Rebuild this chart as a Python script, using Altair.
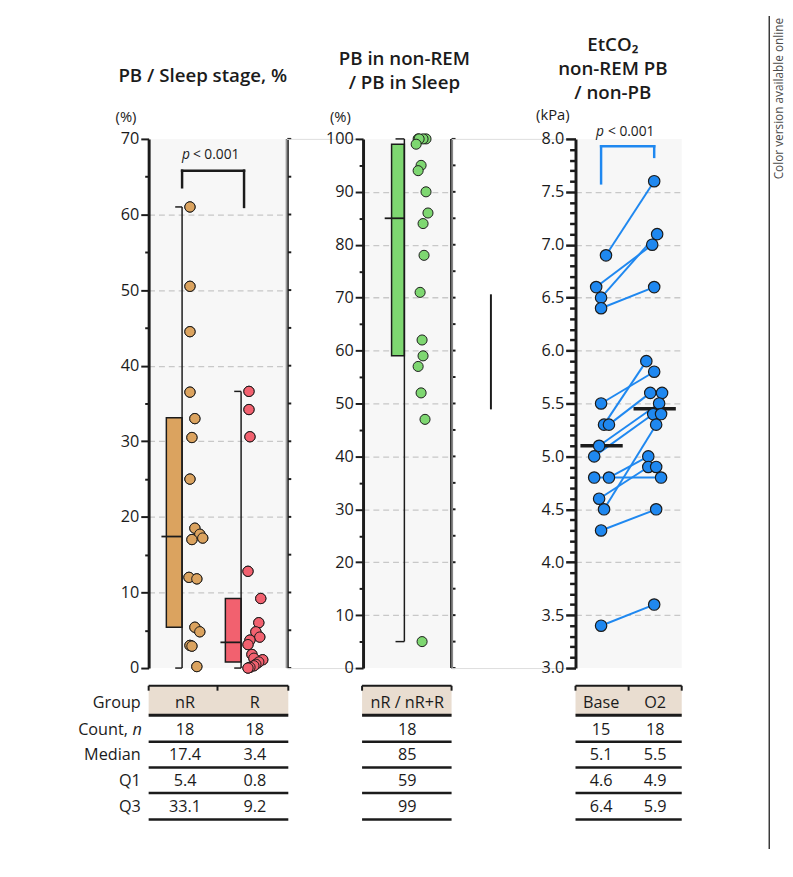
import altair as alt
import pandas as pd

FONT = "Open Sans"
INK = "#1b1b1b"
BG = "#f7f7f7"
GRID = "#c8c8c8"
HEAD = "#e9ddd0"
H = 538  # plot height shared by the three panels

# ---------------- Panel 1: PB / Sleep stage, % ----------------
p1_groups = ["nR", "R"]
p1_colors = ["#dba35f", "#f2616f"]
nr_values = [61, 50.5, 44.5, 36.5, 33, 30.5, 25, 18.5, 17.7, 17.2, 17, 12, 11.8, 5.4, 4.8, 3, 2.9, 0.2]
nr_jitter = [2.1, 2.1, 2.1, 2.1, 2.35, 2.2, 2.1, 2.35, 2.6, 2.75, 2.2, 2.05, 2.45, 2.35, 2.6, 2.1, 2.2, 2.45]
r_values = [36.6, 34.2, 30.6, 12.8, 9.2, 6.0, 4.8, 4.1, 3.7, 3.1, 1.8, 1.3, 1.1, 0.8, 0.5, 0.3, 0.1, 0.0]
r_jitter = [5.1, 5.1, 5.15, 5.05, 5.7, 5.6, 5.45, 5.65, 5.15, 5.05, 5.25, 5.35, 5.8, 5.6, 5.45, 5.35, 5.15, 5.05]
p1_pos = [1.7, 4.7]
p1_q1 = [5.4, 0.8]
p1_median = [17.4, 3.4]
p1_q3 = [33.1, 9.2]
p1_low = [0.0, 0.0]
p1_high = [61.0, 36.6]

# ---------------- Panel 2: PB in non-REM / PB in Sleep ----------------
p2_values = [100, 100, 100, 100, 99, 95, 94, 90, 86, 84, 78, 71, 62, 59, 57, 52, 47, 5]
p2_jitter = [2.8, 3.2, 3.05, 2.85, 2.7, 2.95, 2.8, 3.2, 3.3, 3.05, 3.1, 2.9, 3.0, 3.05, 2.8, 2.95, 3.15, 3.0]
p2_color = "#7ed771"
p2_pos = [2.1]
p2_q1 = [59]
p2_median = [85]
p2_q3 = [99]
p2_low = [5]
p2_high = [100]

# ---------------- Panel 3: EtCO2 ----------------
p3_color = "#1f88f0"
base_values = [6.9, 6.6, 6.5, 6.4, 5.5, 5.3, 5.3, 5.1, 5.0, 4.8, 4.8, 4.6, 4.5, 4.3, 3.4]
base_jitter = [1.55, 1.05, 1.3, 1.3, 1.3, 1.45, 1.7, 1.2, 0.95, 0.95, 1.7, 1.2, 1.45, 1.3, 1.3]
o2_values = [7.6, 7.1, 7.0, 6.6, 5.9, 5.8, 5.6, 5.6, 5.5, 5.4, 5.4, 5.3, 5.0, 4.9, 4.9, 4.8, 4.5, 3.6]
o2_jitter = [4.0, 4.15, 3.9, 4.0, 3.6, 4.0, 3.8, 4.4, 4.25, 3.95, 4.35, 4.1, 3.7, 3.7, 4.1, 4.35, 4.1, 4.0]
pair_o2_index = [0, 2, 1, 3, 5, 4, 6, 8, 9, 15, 12, 13, 11, 16, 17]
p3_medians = [5.1, 5.45]
p3_median_span = [(0.25, 2.4), (2.95, 5.1)]

# ---------------- Tables ----------------
row_labels = ["Median", "Q1", "Q3"]
t1_header = ["nR", "R"]
t1_rows = [["18", "18"], ["17.4", "3.4"], ["5.4", "0.8"], ["33.1", "9.2"]]
t2_header = ["nR / nR+R"]
t2_rows = [["18"], ["85"], ["59"], ["99"]]
t3_header = ["Base", "O2"]
t3_rows = [["15", "18"], ["5.1", "5.5"], ["4.6", "4.9"], ["6.4", "5.9"]]

ONE = pd.DataFrame({"_": [0]})

# table layout (pixels below the plot top)
HDR_TOP, HDR_BOT = 556, 586
HDR_TEXT = 574
ROW_TEXT = [601, 626, 653, 679]
ROW_LINES = [613, 639, 665, 692]
TFS = 16.5
TTL = 19
TOP = -125  # top edge of the drawing, above the plot area


def T(text, px, py, size=TFS, weight="normal", style="normal", align="center",
      baseline="middle", angle=0, color=INK):
    return alt.Chart(ONE).mark_text(
        text=text, font=FONT, fontSize=size, fontWeight=weight, fontStyle=style,
        align=align, baseline=baseline, angle=angle, color=color
    ).encode(x=alt.value(px), y=alt.value(py))


def vaxis(values, major, grid_test, big, small, fmt, tw=2):
    return alt.Axis(
        orient="left", values=values, format=fmt, title=None,
        labelExpr=f"({major}) ? datum.label : ''",
        tickSize={"condition": {"test": major, "value": big}, "value": small},
        tickWidth=tw, tickColor=INK, domainColor=INK, domainWidth=3,
        labelFont=FONT, labelFontSize=16.5, labelColor=INK, labelPadding=2,
        grid=True, gridColor=GRID, gridDash=[6, 4], gridWidth=1.3,
        gridOpacity={"condition": {"test": grid_test, "value": 1}, "value": 0},
    )


def right_axis_layers(ys, values, width):
    dom = alt.Chart(ONE).mark_rule(color=INK, strokeWidth=3).encode(
        x=alt.value(width), y=alt.value(0), y2=alt.value(H))
    tk = alt.Chart(pd.DataFrame({"t": values})).mark_rule(color=INK, strokeWidth=2).encode(
        x=alt.value(width), x2=alt.value(width + 4),
        y=alt.Y("t:Q", scale=ys, axis=None))
    return [dom, tk]


def box_layers(xs, ys, pos, q1, med, q3, lo, hi, colors, box_w, cap_w, med_w):
    df = pd.DataFrame({
        "pos": pos, "q1": q1, "med": med, "q3": q3, "lo": lo, "hi": hi, "color": colors,
        "box_l": [p - box_w for p in pos], "cap_l": [p - cap_w for p in pos],
        "med_l": [p - med_w for p in pos],
    })
    base = alt.Chart(df)
    box = base.mark_rect(stroke=INK, strokeWidth=1.5).encode(
        x=alt.X("box_l:Q", scale=xs, axis=None), x2="pos:Q",
        y=alt.Y("q1:Q", scale=ys, axis=None), y2="q3:Q",
        fill=alt.Fill("color:N", scale=None))
    whisk = base.mark_rule(color=INK, strokeWidth=1.5).encode(
        x=alt.X("pos:Q", scale=xs, axis=None),
        y=alt.Y("lo:Q", scale=ys, axis=None), y2="hi:Q")
    cap_hi = base.mark_rule(color=INK, strokeWidth=1.5).encode(
        x=alt.X("cap_l:Q", scale=xs, axis=None), x2="pos:Q",
        y=alt.Y("hi:Q", scale=ys, axis=None))
    cap_lo = base.mark_rule(color=INK, strokeWidth=1.5).encode(
        x=alt.X("cap_l:Q", scale=xs, axis=None), x2="pos:Q",
        y=alt.Y("lo:Q", scale=ys, axis=None))
    median = base.mark_rule(color=INK, strokeWidth=1.8).encode(
        x=alt.X("med_l:Q", scale=xs, axis=None), x2="pos:Q",
        y=alt.Y("med:Q", scale=ys, axis=None))
    return [box, whisk, cap_hi, cap_lo, median]


def table_layers(xs, span, ticks, header, col_x, rows):
    layers = []
    sp = pd.DataFrame({"a": [span[0]], "b": [span[1]]})
    layers.append(alt.Chart(sp).mark_rect(fill=HEAD).encode(
        x=alt.X("a:Q", scale=xs, axis=None), x2="b:Q",
        y=alt.value(HDR_TOP), y2=alt.value(HDR_BOT)))
    layers.append(alt.Chart(sp).mark_rule(color=INK, strokeWidth=2).encode(
        x=alt.X("a:Q", scale=xs, axis=None), x2="b:Q", y=alt.value(HDR_TOP)))
    layers.append(alt.Chart(pd.DataFrame({"t": ticks})).mark_rule(color=INK, strokeWidth=2).encode(
        x=alt.X("t:Q", scale=xs, axis=None), y=alt.value(HDR_TOP), y2=alt.value(HDR_TOP + 5)))
    layers.append(alt.Chart(sp).mark_rule(color=INK, strokeWidth=3).encode(
        x=alt.X("a:Q", scale=xs, axis=None), x2="b:Q", y=alt.value(HDR_BOT)))
    for ly in ROW_LINES:
        layers.append(alt.Chart(sp).mark_rule(color=INK, strokeWidth=2.5).encode(
            x=alt.X("a:Q", scale=xs, axis=None), x2="b:Q", y=alt.value(ly)))
    layers.append(alt.Chart(pd.DataFrame({"x": col_x, "t": header})).mark_text(
        font=FONT, fontSize=TFS, color=INK).encode(
        x=alt.X("x:Q", scale=xs, axis=None), y=alt.value(HDR_TEXT), text="t:N"))
    for ry, vals in zip(ROW_TEXT, rows):
        layers.append(alt.Chart(pd.DataFrame({"x": col_x, "t": vals})).mark_text(
            font=FONT, fontSize=TFS, color=INK).encode(
            x=alt.X("x:Q", scale=xs, axis=None), y=alt.value(ry), text="t:N"))
    return layers


# ================= Panel 1 =================
xs1 = alt.Scale(domain=[0, 7], nice=False, zero=False)
ys1 = alt.Scale(domain=[0, 70], nice=False, zero=False)
ticks1 = list(range(0, 71, 5))
ax1 = vaxis(ticks1, "datum.value % 10 === 0", "datum.value % 10 === 0 && datum.value > 0 && datum.value < 70", 8, 4, "d")

pts1 = pd.DataFrame({
    "x": nr_jitter + r_jitter,
    "v": nr_values + r_values,
    "color": [p1_colors[0]] * len(nr_values) + [p1_colors[1]] * len(r_values),
})
p1_points = alt.Chart(pts1).mark_circle(size=110, stroke=INK, strokeWidth=1, opacity=1).encode(
    x=alt.X("x:Q", scale=xs1, axis=None), y=alt.Y("v:Q", scale=ys1, axis=ax1),
    fill=alt.Fill("color:N", scale=None))
br1 = pd.DataFrame({"x": [1.7, 1.7, 4.85], "x2": [4.85, 1.7, 4.85],
                    "y": [65.8, 65.8, 65.8], "y2": [65.8, 63.6, 61.0]})
p1_bracket = alt.Chart(br1).mark_rule(color=INK, strokeWidth=2.5, strokeCap="square").encode(
    x=alt.X("x:Q", scale=xs1, axis=None), x2="x2:Q",
    y=alt.Y("y:Q", scale=ys1, axis=None), y2="y2:Q")

p1_layers = [p1_points]
p1_layers += box_layers(xs1, ys1, p1_pos, p1_q1, p1_median, p1_q3, p1_low, p1_high,
                        p1_colors, 0.8, 0.35, 1.05)
p1_layers += right_axis_layers(ys1, ticks1, 141)
p1_layers += [p1_bracket,
              T("p", 38, 16, size=14, style="italic"),
              T("< 0.001", 45, 16, size=14, align="left"),
              T("PB / Sleep stage, %", 55, -64, size=TTL, weight=600),
              T("(%)", -23, -22, size=15),
              T("Group", -8, HDR_TEXT, align="right"),
              T("Count,", -21, ROW_TEXT[0], align="right"),
              T("n", -7, ROW_TEXT[0], align="right", style="italic")]
for lab, ry in zip(row_labels, ROW_TEXT[1:]):
    p1_layers.append(T(lab, -8, ry, align="right"))
p1_layers += table_layers(xs1, [0, 7.1], [0, 3.5, 7.1], t1_header, [1.85, 5.4], t1_rows)
# anchor for the left page edge (white, invisible)
p1_layers.append(alt.Chart(ONE).mark_rule(color="white", strokeWidth=1).encode(
    x=alt.value(-142), y=alt.value(0), y2=alt.value(4)))
# re-draw points on top of the boxes
p1_layers.append(alt.Chart(pts1).mark_circle(size=110, stroke=INK, strokeWidth=1, opacity=1).encode(
    x=alt.X("x:Q", scale=xs1, axis=None), y=alt.Y("v:Q", scale=ys1, axis=None),
    fill=alt.Fill("color:N", scale=None)))

panel1 = alt.layer(*p1_layers).resolve_scale(y="independent").properties(
    width=140, height=H, view=alt.ViewBackground(fill=BG, stroke=None))

# ================= Panel 2 =================
xs2 = alt.Scale(domain=[0, 4.5], nice=False, zero=False)
ys2 = alt.Scale(domain=[0, 100], nice=False, zero=False)
ticks2 = list(range(0, 101, 5))
ax2 = vaxis(ticks2, "datum.value % 10 === 0", "datum.value % 10 === 0 && datum.value > 0 && datum.value < 100", 8, 4, "d")
pts2 = pd.DataFrame({"x": p2_jitter, "v": p2_values})
p2_points = alt.Chart(pts2).mark_circle(size=105, stroke=INK, strokeWidth=1, opacity=1,
                                        fill=p2_color).encode(
    x=alt.X("x:Q", scale=xs2, axis=None), y=alt.Y("v:Q", scale=ys2, axis=ax2))
p2_layers = [p2_points]
p2_layers += box_layers(xs2, ys2, p2_pos, p2_q1, p2_median, p2_q3, p2_low, p2_high,
                        [p2_color], 0.65, 0.45, 1.0)
p2_layers += right_axis_layers(ys2, ticks2, 90)
p2_layers += [T("PB in non-REM", 42, -81, size=TTL, weight=600),
              T("/ PB in Sleep", 42, -57, size=TTL, weight=600),
              T("(%)", -23, -22, size=15),
              alt.Chart(ONE).mark_rule(color=INK, strokeWidth=2).encode(
                  x=alt.value(130), y=alt.value(158), y2=alt.value(275))]
p2_layers += table_layers(xs2, [-0.05, 4.5], [-0.05, 4.5], t2_header, [2.25], t2_rows)
panel2 = alt.layer(*p2_layers).resolve_scale(y="independent").properties(
    width=90, height=H, view=alt.ViewBackground(fill=BG, stroke=None))

# ================= Panel 3 =================
xs3 = alt.Scale(domain=[0, 5.4], nice=False, zero=False)
ys3 = alt.Scale(domain=[3, 8], nice=False, zero=False)
ticks3 = [round(3 + i * 0.1, 1) for i in range(51)]
major3 = "abs(datum.value * 2 - round(datum.value * 2)) < 0.001"
ax3 = vaxis(ticks3, major3, major3 + " && datum.value > 3.01 && datum.value < 7.99", 10, 6, ".1f", tw=2.5)

pairs = pd.DataFrame({
    "x": base_jitter, "y": base_values,
    "x2": [o2_jitter[i] for i in pair_o2_index], "y2": [o2_values[i] for i in pair_o2_index],
})
p3_lines = alt.Chart(pairs).mark_rule(color=p3_color, strokeWidth=2).encode(
    x=alt.X("x:Q", scale=xs3, axis=None), x2="x2:Q",
    y=alt.Y("y:Q", scale=ys3, axis=None), y2="y2:Q")
meds = pd.DataFrame({"a": [s[0] for s in p3_median_span], "b": [s[1] for s in p3_median_span],
                     "m": p3_medians})
p3_meds = alt.Chart(meds).mark_rule(color=INK, strokeWidth=3.5).encode(
    x=alt.X("a:Q", scale=xs3, axis=None), x2="b:Q", y=alt.Y("m:Q", scale=ys3, axis=None))
pts3 = pd.DataFrame({"x": base_jitter + o2_jitter, "v": base_values + o2_values})
p3_points = alt.Chart(pts3).mark_circle(size=135, stroke=INK, strokeWidth=1.2, opacity=1,
                                        fill=p3_color).encode(
    x=alt.X("x:Q", scale=xs3, axis=None), y=alt.Y("v:Q", scale=ys3, axis=ax3))
br3 = pd.DataFrame({"x": [1.3, 1.3, 4.0], "x2": [4.0, 1.3, 4.0],
                    "y": [7.93, 7.93, 7.93], "y2": [7.93, 7.58, 7.83]})
p3_bracket = alt.Chart(br3).mark_rule(color=p3_color, strokeWidth=2.5, strokeCap="square").encode(
    x=alt.X("x:Q", scale=xs3, axis=None), x2="x2:Q",
    y=alt.Y("y:Q", scale=ys3, axis=None), y2="y2:Q")

p3_layers = [p3_lines, p3_meds, p3_points, p3_bracket,
             T("p", 25, -7, size=14, style="italic"),
             T("< 0.001", 33, -7, size=14, align="left"),
             T("EtCO₂", 38, -95, size=TTL, weight=600),
             T("non-REM PB", 38, -71, size=TTL, weight=600),
             T("/ non-PB", 38, -47, size=TTL, weight=600),
             T("(kPa)", -23, -24, size=15),
             alt.Chart(ONE).mark_rule(color="#3a3a3a", strokeWidth=1.5).encode(
                 x=alt.value(197), y=alt.value(TOP), y2=alt.value(722)),
             T("Color version available online", 207, TOP + 2, size=12, angle=270,
               align="right", color="#4a4a4a")]
p3_layers += table_layers(xs3, [0, 5.4], [0, 2.7, 5.4], t3_header, [1.3, 4.05], t3_rows)
panel3 = alt.layer(*p3_layers).resolve_scale(y="independent").properties(
    width=108, height=H, view=alt.ViewBackground(fill=BG, stroke=None))


def spacer(w):
    return alt.Chart(ONE).mark_point(opacity=0).encode(
        x=alt.value(0), y=alt.value(0)).properties(width=w, height=H)


chart = alt.hconcat(panel1, spacer(78), panel2, spacer(126), panel3,
                    spacing=0, bounds="flush").properties(padding=0).configure_view(
    stroke=None).configure(font=FONT)

chart.save("out.html", embed_options={"renderer": "svg", "actions": False})
